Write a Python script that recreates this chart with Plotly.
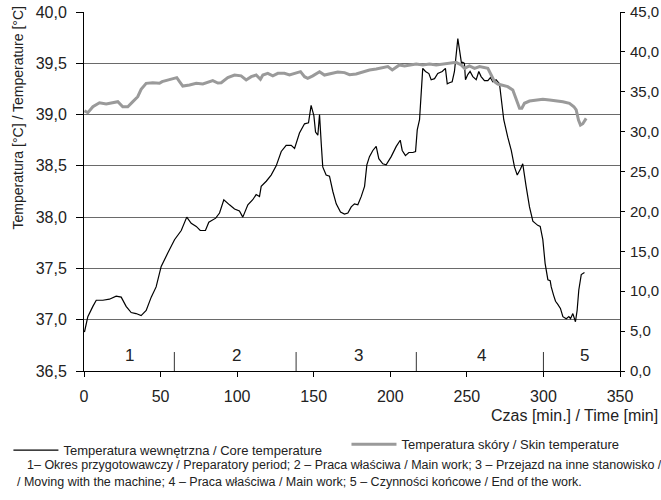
import plotly.graph_objects as go

# ---- data ----
core_time = [0.3, 2.5, 5.8, 8, 12.3, 16.6, 21, 24.3, 27.5, 30.8, 34, 37.3, 40.6, 43.9, 47.1,
             50.4, 54.7, 59.1, 63.5, 67.1, 70, 73.3, 75.9, 79.3, 81.5, 84.1, 86, 88.5, 91.3,
             95, 98.3, 101.5, 103.7, 107, 110.2, 112.4, 114.6, 115.7, 119, 122.2, 125.5,
             128.8, 132, 135.3, 137.5, 140.7, 144, 146.6, 148.3, 150.1, 151.2, 152.7, 153.8,
             154.9, 155.9, 158.1, 160.3, 162.5, 164.7, 167.5, 170.1, 172.3, 174.5, 176.6,
             178.8, 181, 183.2, 184.7, 186.4, 188.6, 190.8, 192.5, 195.1, 197.3, 200.6,
             203.9, 206.5, 207.8, 209.9, 212.1, 214.7, 216.5, 217.6, 219.1, 220.2, 221.2,
             223, 225.2, 226.7, 228.9, 231, 233.9, 236, 237.2, 238.6, 240.4, 241.9, 243,
             244.1, 245.2, 246.5, 247.3, 248.4, 249.1, 250.6, 252.1, 253.9, 256.1, 257.8,
             259.3, 261.5, 263.7, 265.4, 266.9, 269.1, 271.3, 272.4, 274.1, 276.7, 279,
             281.1, 282.9, 285, 286.5, 288.7, 290.9, 293.1, 296.3, 297.9, 299.6, 301.1,
             302.9, 304.4, 305.1, 306.6, 307.9, 309.4, 311.1, 312.7, 314.9, 316.6, 317.7,
             319.2, 320.3, 320.9, 322, 323.1, 324.7, 326.8]
core_temp = [36.88, 37.03, 37.13, 37.19, 37.19, 37.20, 37.23, 37.22, 37.13, 37.07, 37.06,
             37.04, 37.09, 37.22, 37.32, 37.52, 37.65, 37.78, 37.87, 38.00, 37.94, 37.91,
             37.87, 37.87, 37.95, 37.97, 37.99, 38.04, 38.17, 38.12, 38.08, 38.06, 38.00,
             38.12, 38.17, 38.22, 38.20, 38.30, 38.35, 38.41, 38.50, 38.64, 38.70, 38.70,
             38.67, 38.82, 38.91, 38.92, 39.09, 38.99, 38.83, 38.80, 39.00, 38.72, 38.49,
             38.41, 38.40, 38.25, 38.13, 38.05, 38.03, 38.04, 38.10, 38.13, 38.12, 38.20,
             38.30, 38.51, 38.59, 38.65, 38.69, 38.57, 38.52, 38.51, 38.59, 38.69, 38.75,
             38.65, 38.60, 38.63, 38.63, 38.64, 38.85, 38.95, 39.17, 39.45, 39.42, 39.40,
             39.34, 39.35, 39.40, 39.42, 39.45, 39.30, 39.31, 39.32, 39.42, 39.60, 39.74,
             39.63, 39.50, 39.51, 39.50, 39.34, 39.39, 39.42, 39.37, 39.34, 39.42, 39.37,
             39.33, 39.33, 39.36, 39.32, 39.34, 39.30, 39.14, 38.95, 38.78, 38.65, 38.49,
             38.41, 38.47, 38.52, 38.30, 38.10, 37.96, 37.92, 37.91, 37.78, 37.55, 37.39,
             37.38, 37.32, 37.24, 37.18, 37.15, 37.11, 37.03, 37.01, 37.03, 37.01, 37.06,
             37.01, 36.98, 37.09, 37.29, 37.44, 37.46]

skin_time = [0.3, 2.5, 5.8, 10.1, 14.5, 18.8, 22.1, 25.3, 28.6, 31.9, 35.1, 37.3, 40.6, 44.9,
             49.3, 51, 54.7, 58, 60.6, 62.4, 64.5, 68.9, 73.3, 77.6, 79.8, 84.1, 87.4, 89.6,
             93.9, 98.3, 102.6, 105.9, 109.2, 112.4, 115.2, 116.8, 120, 123.3, 126.6, 130.9,
             134.2, 137.5, 141.4, 144, 146.1, 149.4, 153.8, 157, 161.4, 165.7, 170.1, 173.4,
             177.7, 182.1, 186.4, 190.8, 195.1, 198.4, 201.3, 203.9, 206, 209.3, 212.5,
             216.9, 221.2, 225.6, 230, 234.3, 238.7, 243, 246.3, 248.5, 251.7, 255, 258.3,
             261.5, 263.7, 265.9, 268.1, 270.2, 273.5, 276.7, 280, 282.2, 284.4, 285.9,
             287.6, 290.9, 295.3, 299.6, 304, 308.3, 312.7, 317, 319.9, 321.4, 322.9, 324.2,
             325.7, 327.9]
skin_temp = [32.63, 32.38, 33.13, 33.63, 33.47, 33.63, 33.76, 33.13, 33.13, 33.76, 34.38,
             35.31, 36.06, 36.14, 36.06, 36.27, 36.48, 36.60, 36.77, 36.27, 35.72, 35.85,
             36.06, 35.97, 36.14, 36.39, 36.10, 36.14, 36.77, 37.10, 37.00, 36.48, 36.89,
             37.10, 36.56, 37.10, 37.31, 37.00, 37.31, 37.31, 37.10, 37.31, 37.52, 36.89,
             36.68, 37.00, 37.52, 37.10, 37.31, 37.48, 37.40, 37.15, 37.23, 37.52, 37.73,
             37.86, 38.07, 38.15, 37.73, 38.07, 38.36, 38.23, 38.36, 38.48, 38.36, 38.48,
             38.36, 38.44, 38.57, 38.69, 38.36, 37.94, 38.23, 37.94, 38.15, 38.07, 37.94,
             37.10, 36.27, 35.97, 35.85, 35.64, 35.22, 34.18, 32.93, 32.93, 33.56, 33.84,
             33.97, 34.06, 33.97, 33.88, 33.76, 33.56, 33.13, 32.72, 31.46, 30.83, 31.00,
             31.67]

period_bounds = [59, 138.5, 217, 300]
period_labels = ["1", "2", "3", "4", "5"]
period_label_x = [29.8, 99.5, 179.2, 259.3, 326.8]

FONT = "Liberation Sans, Arial, sans-serif"
TXT = "#222222"

fig = go.Figure()
fig.add_trace(go.Scatter(x=core_time, y=core_temp, mode="lines",
                         name="Temperatura wewnętrzna / Core temperature",
                         line=dict(color="black", width=1.2), legend="legend"))
fig.add_trace(go.Scatter(x=skin_time, y=skin_temp, mode="lines", yaxis="y2",
                         name="Temperatura skóry / Skin temperature",
                         line=dict(color="#9a9a9a", width=3), legend="legend2"))

for b in period_bounds:
    fig.add_shape(type="line", xref="x", yref="y", x0=b, x1=b, y0=36.5, y1=36.685,
                  line=dict(color="#333", width=1))
for lab, lx in zip(period_labels, period_label_x):
    fig.add_annotation(x=lx, y=36.648, xref="x", yref="y", text=lab, showarrow=False,
                       font=dict(size=17, color=TXT, family=FONT))

fig.add_annotation(xref="paper", yref="paper", x=1.0737, y=-0.125, xanchor="right",
                   yanchor="middle", text="Czas [min.] / Time [min]", showarrow=False,
                   font=dict(size=16, color=TXT, family=FONT))
fig.add_annotation(xref="paper", yref="paper", x=-0.124, y=0.705, textangle=-90,
                   xanchor="center", yanchor="middle",
                   text="Temperatura [°C] / Temperature [°C]", showarrow=False,
                   font=dict(size=14, color=TXT, family=FONT))
fig.add_annotation(xref="paper", yref="paper", x=-0.111, y=-0.2632, xanchor="left",
                   yanchor="middle", showarrow=False,
                   text="1– Okres przygotowawczy / Preparatory period; 2 – Praca właściwa / Main work; 3 – Przejazd na inne stanowisko /",
                   font=dict(size=12.5, color=TXT, family=FONT))
fig.add_annotation(xref="paper", yref="paper", x=-0.1278, y=-0.309, xanchor="left",
                   yanchor="middle", showarrow=False,
                   text="/ Moving with the machine; 4 – Praca właściwa / Main work; 5 – Czynności końcowe / End of the work.",
                   font=dict(size=12.5, color=TXT, family=FONT))

fig.update_layout(
    width=661, height=500,
    margin=dict(l=84, r=41, t=12, b=129, autoexpand=False),
    paper_bgcolor="white", plot_bgcolor="white",
    separators=", ",
    font=dict(family=FONT, size=16, color=TXT),
    xaxis=dict(range=[0, 350], dtick=50, tick0=0, showgrid=False, zeroline=False,
               showline=True, linecolor="black", linewidth=1, ticks="outside",
               ticklen=5, tickcolor="black", ticklabelstandoff=6, automargin=False,
               tickfont=dict(size=16, color=TXT)),
    yaxis=dict(range=[36.5, 40], dtick=0.5, tick0=36.5, tickformat=".1f",
               showgrid=True, gridcolor="#6a6a6a", gridwidth=1, zeroline=False,
               showline=True, linecolor="black", linewidth=1, ticks="outside",
               ticklen=7, tickcolor="black", ticklabelstandoff=6, automargin=False,
               tickfont=dict(size=16, color=TXT)),
    yaxis2=dict(range=[0, 45], dtick=5, tick0=0, tickformat=".1f", overlaying="y",
                side="right", showgrid=False, zeroline=False, showline=True,
                linecolor="black", linewidth=1, ticks="outside", ticklen=4,
                tickcolor="black", ticklabelstandoff=2, automargin=False,
                tickfont=dict(size=15, color=TXT)),
    legend=dict(orientation="h", x=-0.141, y=-0.2206, xanchor="left", yanchor="middle",
                bgcolor="rgba(0,0,0,0)", font=dict(size=13, color=TXT, family=FONT),
                itemwidth=45),
    legend2=dict(orientation="h", x=0.4897, y=-0.2045, xanchor="left", yanchor="middle",
                 bgcolor="rgba(0,0,0,0)", font=dict(size=13, color=TXT, family=FONT),
                 itemwidth=45),
    showlegend=True,
)

fig.write_html("out.html")
